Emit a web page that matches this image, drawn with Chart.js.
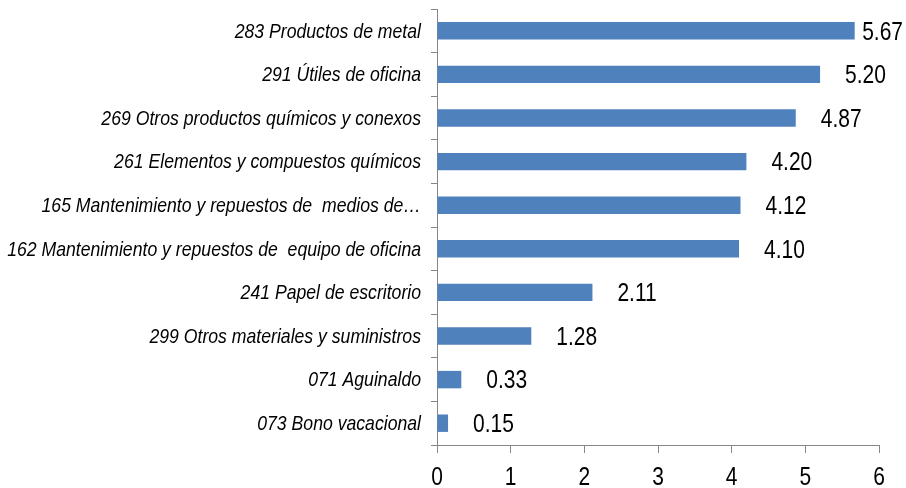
<!DOCTYPE html>
<html>
<head>
<meta charset="utf-8">
<script src="https://cdn.jsdelivr.net/npm/chart.js@4"></script>
<style>
html,body{margin:0;padding:0;background:#fff;}
#wrap{width:906px;height:488px;}
</style>
</head>
<body>
<div id="wrap"><canvas id="chart"></canvas></div>
<script>
// ================= DATA =================
const categories=[
"283 Productos de metal",
"291 Útiles de oficina",
"269 Otros productos químicos y conexos",
"261 Elementos y compuestos químicos",
"165 Mantenimiento y repuestos de  medios de…",
"162 Mantenimiento y repuestos de  equipo de oficina",
"241 Papel de escritorio",
"299 Otros materiales y suministros",
"071 Aguinaldo",
"073 Bono vacacional"
];
const values=[5.67,5.20,4.87,4.20,4.12,4.10,2.11,1.28,0.33,0.15];
const xTicks=[0,1,2,3,4,5,6];

const axisGray="#868686";
const fam="'Liberation Sans', Arial, sans-serif";
const squeeze=0.84; // narrow look of the original font

// condensed text helper
function narrowText(ctx,txt,x,y,align){
ctx.save();
ctx.translate(x,y);
ctx.scale(squeeze,1);
ctx.textAlign=align;
ctx.fillText(txt,0,0);
ctx.restore();
}

// ================= LABELS (categories, ticks, values) =================
const textPlugin={
id:"textPlugin",
afterDraw(chart){
let ctx=chart.ctx;
let xs=chart.scales.x, ys=chart.scales.y;
ctx.save();
ctx.fillStyle="#000";
ctx.textBaseline="middle";

// category labels
ctx.font="italic 21px "+fam;
categories.forEach((c,i)=>{
narrowText(ctx,c,ys.right-16,ys.getPixelForTick(i)+1,"right");
});

// x tick labels
ctx.font="25px "+fam;
xTicks.forEach(v=>{
narrowText(ctx,String(v),xs.getPixelForValue(v),478,"center");
});

// value labels
let meta=chart.getDatasetMeta(0);
ctx.font="25px "+fam;
meta.data.forEach((bar,i)=>{
let txt=values[i].toFixed(2);
let w=ctx.measureText(txt).width*squeeze;
let x=bar.x+25;
if(x+w>chart.width-3) x=chart.width-3-w;
narrowText(ctx,txt,x,bar.y+2,"left");
});
ctx.restore();
}
};

// ================= CHART =================
new Chart(document.getElementById("chart"),{
type:"bar",
data:{
labels:categories,
datasets:[{
data:values,
backgroundColor:"#4f81bd",
borderWidth:0,
categoryPercentage:1,
barPercentage:0.4
}]
},
plugins:[textPlugin],
options:{
indexAxis:"y",
responsive:true,
maintainAspectRatio:false,
animation:false,
layout:{padding:{top:9,right:27,bottom:0,left:0}},
plugins:{legend:{display:false},tooltip:{enabled:false}},
scales:{
x:{
min:0,max:6,
afterBuildTicks(scale){scale.ticks=xTicks.map(v=>({value:v}));},
afterFit(scale){scale.height=43;scale.paddingLeft=0;scale.paddingRight=0;},
grid:{drawOnChartArea:false,drawTicks:true,tickLength:8,color:axisGray},
border:{display:true,color:axisGray,width:1},
ticks:{display:false}
},
y:{
afterFit(scale){scale.width=437;scale.paddingTop=0;scale.paddingBottom=0;},
grid:{drawOnChartArea:false,drawTicks:true,tickLength:6,color:axisGray,offset:true},
border:{display:true,color:axisGray,width:1},
ticks:{display:false,autoSkip:false}
}
}
}
});
</script>
</body>
</html>
